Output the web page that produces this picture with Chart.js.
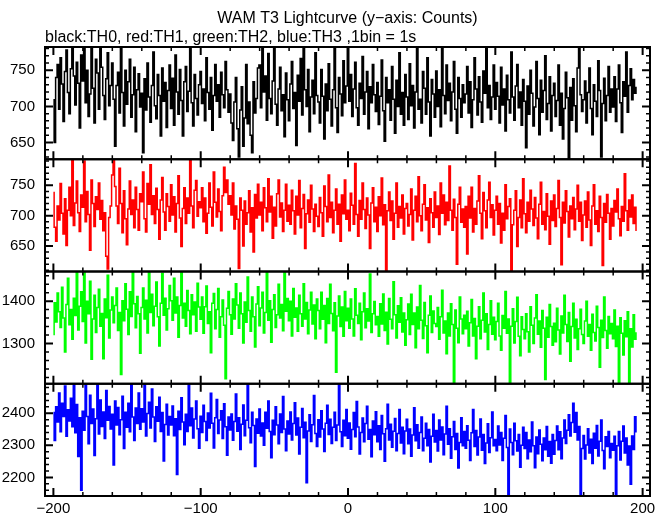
<!DOCTYPE html>
<html>
<head>
<meta charset="utf-8">
<script src="https://cdn.jsdelivr.net/npm/chart.js@4.4.0/dist/chart.umd.min.js"></script>
<style>
  html, body { margin: 0; padding: 0; background: #fff; }
  #wrap { width: 669px; height: 515px; }
</style>
</head>
<body>
<div id="wrap"><canvas id="lc" width="669" height="515"></canvas></div>
<script>
// time of first bin (s); 1 bin = 1 s
const tStart = -200;

// TH0 counts (black), one row = 20 s
const th0 = [
  709, 650, 740, 758, 696, 767, 731, 679, 748, 778, 719, 690, 752, 790, 742, 702, 761, 732, 670, 771,
  735, 796, 705, 750, 686, 717, 783, 725, 677, 765, 746, 696, 802, 754, 715, 682, 738, 774, 701, 729,
  760, 710, 645, 729, 747, 691, 789, 719, 673, 750, 703, 734, 765, 685, 716, 754, 665, 723, 745, 699,
  718, 636, 738, 695, 760, 713, 678, 729, 775, 701, 683, 744, 715, 659, 753, 707, 733, 671, 722, 757,
  697, 739, 674, 771, 720, 689, 751, 708, 659, 734, 755, 693, 721, 780, 705, 673, 744, 711, 688, 730,
  748, 704, 724, 680, 767, 719, 696, 740, 667, 715, 758, 707, 730, 685, 747, 716, 698, 762, 723, 692,
  717, 677, 653, 706, 740, 669, 630, 695, 727, 645, 684, 758, 676, 706, 660, 636, 734, 691, 711, 753,
  757, 698, 798, 720, 742, 681, 773, 711, 690, 735, 788, 703, 674, 724, 754, 694, 716, 658, 746, 709,
  680, 731, 762, 697, 719, 646, 743, 707, 766, 688, 807, 723, 700, 751, 665, 713, 736, 690, 774, 715,
  706, 677, 751, 714, 655, 731, 694, 759, 710, 673, 723, 783, 698, 664, 740, 717, 687, 763, 705, 728,
  805, 707, 744, 686, 724, 761, 698, 674, 732, 711, 769, 689, 720, 748, 669, 727, 705, 758, 716, 693,
  733, 675, 714, 764, 694, 652, 740, 705, 723, 681, 755, 710, 663, 736, 700, 774, 689, 719, 674, 744,
  713, 682, 759, 701, 729, 670, 720, 781, 696, 710, 677, 748, 725, 689, 767, 706, 659, 737, 717, 685,
  749, 700, 723, 672, 786, 715, 690, 757, 708, 732, 680, 720, 762, 696, 663, 740, 711, 685, 730, 705,
  717, 755, 691, 734, 671, 709, 767, 724, 688, 741, 706, 678, 749, 718, 792, 698, 729, 682, 713, 757,
  696, 733, 714, 677, 754, 702, 724, 666, 743, 709, 691, 775, 713, 681, 728, 758, 698, 720, 674, 737,
  707, 643, 728, 689, 750, 718, 673, 699, 762, 711, 661, 736, 692, 722, 770, 682, 704, 741, 666, 715,
  732, 686, 708, 757, 674, 718, 655, 697, 747, 712, 622, 726, 681, 738, 701, 665, 753, 792, 716, 693,
  709, 735, 677, 719, 753, 697, 661, 730, 707, 686, 763, 722, 630, 704, 739, 680, 715, 755, 692, 724,
  699, 741, 679, 724, 757, 705, 664, 734, 714, 775, 692, 729, 752, 709, 737, 718, 726
];

// TH1 counts (red)
const th1 = [
  738, 681, 658, 716, 693, 753, 704, 670, 728, 651, 709, 747, 700, 798, 684, 721, 757, 705, 674, 734,
  714, 790, 690, 740, 702, 643, 759, 720, 682, 731, 710, 754, 694, 725, 675, 705, 633, 612, 697, 716,
  767, 817, 748, 716, 687, 778, 720, 672, 741, 695, 652, 711, 757, 702, 726, 680, 747, 710, 676, 736,
  723, 772, 695, 673, 753, 719, 784, 702, 733, 687, 745, 710, 661, 726, 763, 706, 676, 736, 715, 691,
  751, 701, 731, 673, 720, 766, 696, 649, 712, 746, 687, 729, 704, 792, 716, 680, 742, 758, 699, 723,
  713, 746, 690, 729, 671, 704, 754, 714, 683, 772, 722, 698, 744, 707, 675, 733, 780, 738, 759, 719,
  733, 701, 754, 678, 716, 694, 613, 729, 709, 650, 724, 686, 705, 741, 673, 713, 640, 735, 696, 752,
  701, 722, 675, 746, 713, 690, 761, 706, 732, 663, 714, 683, 736, 759, 698, 721, 674, 709, 752, 691,
  717, 686, 742, 708, 670, 732, 701, 758, 680, 712, 735, 646, 703, 726, 689, 750, 711, 674, 719, 699,
  682, 730, 705, 666, 749, 715, 690, 767, 697, 722, 672, 709, 744, 686, 719, 658, 734, 703, 759, 694,
  709, 675, 737, 717, 686, 786, 702, 666, 725, 694, 754, 710, 679, 729, 701, 646, 721, 746, 690, 714,
  674, 731, 700, 762, 685, 718, 608, 708, 739, 692, 724, 661, 704, 754, 681, 715, 696, 734, 670, 712,
  720, 683, 702, 744, 660, 709, 732, 690, 764, 700, 675, 719, 751, 693, 713, 656, 728, 705, 681, 739,
  697, 716, 669, 754, 704, 734, 685, 722, 692, 782, 709, 676, 727, 697, 620, 719, 747, 689, 711, 681,
  715, 637, 732, 696, 747, 673, 712, 686, 724, 766, 704, 662, 738, 708, 680, 726, 755, 697, 718, 668,
  709, 732, 686, 720, 655, 704, 676, 751, 695, 715, 728, 590, 685, 709, 741, 649, 697, 726, 680, 761,
  703, 672, 722, 691, 742, 711, 684, 730, 696, 662, 719, 755, 686, 707, 677, 736, 699, 653, 724, 692,
  734, 682, 712, 758, 697, 619, 722, 688, 741, 707, 665, 716, 695, 730, 677, 711, 750, 691, 722, 659,
  701, 724, 681, 739, 693, 651, 716, 751, 686, 708, 674, 732, 697, 618, 720, 689, 735, 704, 661, 712,
  683, 725, 706, 744, 695, 667, 715, 691, 769, 708, 676, 726, 698, 734, 687, 714, 676
];

// TH2 counts (green)
const th2 = [
  1321, 1396, 1351, 1419, 1375, 1338, 1433, 1360, 1280, 1392, 1454, 1344, 1380, 1310, 1407, 1366, 1468, 1332, 1388, 1422,
  1352, 1492, 1301, 1400, 1370, 1447, 1263, 1358, 1414, 1326, 1385, 1428, 1341, 1371, 1264, 1405, 1361, 1461, 1313, 1379,
  1410, 1349, 1390, 1431, 1331, 1373, 1227, 1401, 1354, 1441, 1381, 1321, 1422, 1364, 1475, 1394, 1337, 1411, 1370, 1277,
  1385, 1431, 1358, 1402, 1325, 1496, 1373, 1416, 1342, 1388, 1445, 1363, 1294, 1395, 1466, 1367, 1407, 1332, 1382, 1437,
  1401, 1355, 1454, 1372, 1410, 1315, 1390, 1481, 1360, 1395, 1341, 1425, 1378, 1323, 1415, 1368, 1398, 1329, 1442, 1386,
  1357, 1410, 1324, 1387, 1436, 1347, 1375, 1278, 1395, 1418, 1335, 1380, 1430, 1315, 1363, 1403, 1343, 1217, 1383, 1423,
  1368, 1322, 1405, 1358, 1441, 1391, 1336, 1419, 1370, 1301, 1398, 1350, 1457, 1378, 1329, 1410, 1363, 1292, 1393, 1434,
  1342, 1384, 1421, 1325, 1373, 1476, 1355, 1401, 1303, 1380, 1415, 1338, 1368, 1440, 1360, 1392, 1330, 1484, 1376, 1406,
  1354, 1400, 1318, 1430, 1362, 1384, 1329, 1414, 1370, 1341, 1441, 1358, 1397, 1323, 1379, 1421, 1346, 1391, 1311, 1405,
  1378, 1335, 1421, 1357, 1390, 1302, 1406, 1347, 1440, 1371, 1330, 1396, 1232, 1365, 1412, 1340, 1386, 1317, 1423, 1354,
  1383, 1336, 1405, 1358, 1318, 1429, 1367, 1347, 1395, 1309, 1375, 1419, 1337, 1382, 1353, 1464, 1326, 1370, 1399, 1344,
  1364, 1317, 1394, 1346, 1417, 1331, 1374, 1299, 1406, 1357, 1335, 1446, 1368, 1313, 1389, 1350, 1408, 1327, 1372, 1296,
  1356, 1393, 1321, 1416, 1345, 1372, 1290, 1386, 1335, 1437, 1355, 1312, 1397, 1342, 1278, 1367, 1412, 1326, 1377, 1347,
  1340, 1385, 1310, 1363, 1426, 1325, 1353, 1276, 1372, 1318, 1394, 1345, 1201, 1379, 1336, 1302, 1410, 1358, 1323, 1367,
  1335, 1376, 1294, 1349, 1404, 1318, 1359, 1264, 1341, 1387, 1311, 1355, 1419, 1327, 1370, 1286, 1345, 1401, 1322, 1362,
  1309, 1352, 1395, 1318, 1284, 1366, 1336, 1423, 1324, 1358, 1190, 1341, 1382, 1301, 1352, 1409, 1317, 1271, 1363, 1333,
  1311, 1370, 1328, 1280, 1387, 1343, 1300, 1360, 1415, 1322, 1353, 1291, 1378, 1336, 1215, 1362, 1315, 1392, 1340, 1296,
  1348, 1304, 1383, 1332, 1275, 1365, 1325, 1414, 1345, 1305, 1373, 1258, 1340, 1395, 1313, 1357, 1286, 1335, 1381, 1321,
  1300, 1353, 1400, 1317, 1345, 1284, 1369, 1326, 1306, 1388, 1338, 1244, 1355, 1314, 1410, 1331, 1289, 1364, 1323, 1347,
  1311, 1379, 1293, 1341, 1202, 1361, 1324, 1273, 1354, 1316, 1375, 1197, 1335, 1292, 1368, 1310, 1325
];

// TH3 counts (blue)
const th3 = [
  2402, 2315, 2420, 2373, 2463, 2342, 2431, 2390, 2485, 2328, 2411, 2376, 2447, 2358, 2520, 2339, 2427, 2265, 2386, 2160,
  2406, 2347, 2491, 2390, 2305, 2456, 2368, 2413, 2268, 2383, 2514, 2335, 2441, 2359, 2404, 2321, 2471, 2378, 2421, 2351,
  2397, 2239, 2438, 2363, 2418, 2333, 2380, 2453, 2290, 2403, 2356, 2431, 2342, 2503, 2388, 2315, 2416, 2368, 2463, 2350,
  2414, 2373, 2522, 2329, 2399, 2434, 2354, 2476, 2388, 2312, 2420, 2375, 2450, 2343, 2402, 2251, 2365, 2428, 2332, 2390,
  2363, 2423, 2330, 2383, 2209, 2406, 2349, 2448, 2373, 2302, 2397, 2343, 2496, 2361, 2416, 2323, 2382, 2438, 2352, 2291,
  2391, 2340, 2425, 2374, 2315, 2401, 2354, 2462, 2369, 2292, 2386, 2443, 2337, 2379, 2408, 2321, 2430, 2358, 2269, 2388,
  2348, 2398, 2316, 2374, 2460, 2344, 2386, 2287, 2366, 2426, 2330, 2378, 2522, 2355, 2308, 2403, 2362, 2234, 2382, 2338,
  2413, 2329, 2370, 2300, 2403, 2353, 2438, 2343, 2261, 2378, 2333, 2420, 2363, 2305, 2398, 2340, 2452, 2351, 2283, 2376,
  2335, 2404, 2317, 2368, 2433, 2332, 2385, 2273, 2356, 2415, 2324, 2372, 2183, 2345, 2395, 2312, 2364, 2455, 2337, 2296,
  2380, 2326, 2408, 2351, 2281, 2369, 2425, 2334, 2381, 2306, 2356, 2403, 2315, 2363, 2527, 2342, 2296, 2378, 2330, 2412,
  2322, 2370, 2288, 2349, 2402, 2327, 2437, 2357, 2273, 2340, 2385, 2311, 2368, 2422, 2319, 2349, 2264, 2376, 2333, 2405,
  2311, 2361, 2287, 2393, 2336, 2250, 2352, 2428, 2317, 2366, 2294, 2344, 2384, 2283, 2337, 2412, 2307, 2356, 2274, 2345,
  2381, 2305, 2351, 2266, 2332, 2417, 2314, 2364, 2291, 2340, 2388, 2283, 2322, 2369, 2299, 2349, 2248, 2328, 2397, 2310,
  2346, 2282, 2379, 2317, 2357, 2271, 2335, 2422, 2303, 2352, 2260, 2327, 2374, 2287, 2337, 2229, 2309, 2386, 2299, 2343,
  2291, 2361, 2316, 2253, 2339, 2412, 2296, 2346, 2270, 2326, 2382, 2285, 2334, 2243, 2307, 2367, 2278, 2324, 2404, 2299,
  2318, 2283, 2360, 2301, 2340, 2253, 2322, 2393, 2293, 2120, 2351, 2309, 2271, 2369, 2314, 2282, 2334, 2232, 2300, 2356,
  2290, 2340, 2258, 2317, 2280, 2373, 2299, 2230, 2326, 2274, 2348, 2303, 2252, 2323, 2286, 2359, 2266, 2312, 2244, 2334,
  2272, 2315, 2360, 2286, 2342, 2258, 2323, 2379, 2306, 2347, 2395, 2329, 2371, 2431, 2341, 2402, 2317, 2359, 2146, 2290,
  2331, 2257, 2301, 2352, 2276, 2319, 2243, 2338, 2291, 2362, 2267, 2313, 2379, 2284, 2227, 2327, 2296, 2343, 2261, 2306,
  2285, 2328, 2112, 2299, 2343, 2254, 2313, 2360, 2276, 2323, 2239, 2298, 2179, 2329, 2287, 2389, 2342
];

const xTicks = [-200, -100, 0, 100, 200];
const y0Ticks = [650, 700, 750];
const y1Ticks = [650, 700, 750];
const y2Ticks = [1300, 1400];
const y3Ticks = [2200, 2300, 2400];

// one panel per energy band, top to bottom
const panels = [
  { id: 'y0', data: th0, color: '#000000', min: 627, max: 782, ticks: y0Ticks, minor: 10 },
  { id: 'y1', data: th1, color: '#ff0000', min: 608, max: 793, ticks: y1Ticks, minor: 10 },
  { id: 'y2', data: th2, color: '#00ff00', min: 1205, max: 1470, ticks: y2Ticks, minor: 20 },
  { id: 'y3', data: th3, color: '#0000ff', min: 2142, max: 2492, ticks: y3Ticks, minor: 20 },
];

const FONT = 'Liberation Sans, Arial, Helvetica, sans-serif';
const minus = (v) => String(v).replace('-', '\u2212');

const scales = {
  x: {
    type: 'linear',
    position: 'bottom',
    min: -205.7,
    max: 205,
    grid: { display: false, drawTicks: false },
    border: { display: false },
    ticks: { color: '#000', font: { family: FONT, size: 15 }, padding: 4, callback: minus },
    afterBuildTicks: (s) => { s.ticks = xTicks.map((v) => ({ value: v })); },
    afterFit: (s) => { s.height = 19; },
  },
};
panels.forEach((p, i) => {
  scales[p.id] = {
    type: 'linear',
    position: 'left',
    stack: 'lc',
    stackWeight: 1,
    weight: panels.length - i,
    min: p.min,
    max: p.max,
    grid: { display: false, drawTicks: false },
    border: { display: false },
    ticks: { color: '#000', font: { family: FONT, size: 15 }, padding: 10, callback: (v) => String(v) },
    afterBuildTicks: (s) => { s.ticks = p.ticks.map((v) => ({ value: v })); },
    afterFit: (s) => { s.width = 45; },
  };
});

// clip each curve to its own panel, then draw frames and inward ticks
const panelPlugin = {
  id: 'panels',
  beforeDatasetDraw(chart, args) {
    const s = chart.scales[chart.data.datasets[args.index].yAxisID];
    const a = chart.chartArea;
    const ctx = chart.ctx;
    ctx.save();
    ctx.beginPath();
    ctx.rect(a.left, s.top, a.right - a.left, s.bottom - s.top);
    ctx.clip();
  },
  afterDatasetDraw(chart) {
    chart.ctx.restore();
  },
  afterDraw(chart) {
    const ctx = chart.ctx;
    const a = chart.chartArea;
    const xs = chart.scales.x;
    ctx.save();
    ctx.strokeStyle = '#000';
    panels.forEach((p) => {
      const s = chart.scales[p.id];
      // y ticks, left and right
      const first = Math.ceil(p.min / p.minor) * p.minor;
      for (let v = first; v <= p.max; v += p.minor) {
        const y = s.getPixelForValue(v);
        const major = p.ticks.includes(v);
        const len = major ? 8 : 4;
        ctx.lineWidth = major ? 2 : 1.5;
        ctx.beginPath();
        ctx.moveTo(a.left, y); ctx.lineTo(a.left + len, y);
        ctx.moveTo(a.right, y); ctx.lineTo(a.right - len, y);
        ctx.stroke();
      }
      // x ticks, top and bottom of each panel
      for (let v = -200; v <= 200; v += 20) {
        const x = xs.getPixelForValue(v);
        const major = v % 100 === 0;
        const len = major ? 8 : 4;
        ctx.lineWidth = major ? 2 : 1.5;
        ctx.beginPath();
        ctx.moveTo(x, s.top); ctx.lineTo(x, s.top + len);
        ctx.moveTo(x, s.bottom); ctx.lineTo(x, s.bottom - len);
        ctx.stroke();
      }
      ctx.lineWidth = 2;
      ctx.strokeRect(a.left, s.top, a.right - a.left, s.bottom - s.top);
    });
    ctx.restore();
  },
};

new Chart(document.getElementById('lc'), {
  type: 'line',
  data: {
    datasets: panels.map((p) => ({
      data: p.data.map((v, i) => ({ x: tStart + i, y: v })),
      yAxisID: p.id,
      borderColor: p.color,
      borderWidth: 1.5,
      borderJoinStyle: 'miter',
      borderCapStyle: 'butt',
      pointRadius: 0,
      stepped: 'middle',
      fill: false,
    })),
  },
  options: {
    responsive: false,
    animation: false,
    devicePixelRatio: 1,
    layout: { padding: { left: 0, right: 19, top: 0, bottom: 0 } },
    plugins: {
      legend: { display: false },
      tooltip: { enabled: false },
      title: {
        display: true,
        text: 'WAM T3 Lightcurve (y\u2212axis: Counts)',
        fullSize: false,
        color: '#000',
        font: { family: FONT, size: 16, weight: 'normal', lineHeight: 1 },
        padding: { top: 11, bottom: 0 },
      },
      subtitle: {
        display: true,
        text: 'black:TH0, red:TH1, green:TH2, blue:TH3 ,1bin = 1s',
        align: 'start',
        fullSize: false,
        color: '#000',
        font: { family: FONT, size: 16, weight: 'normal', lineHeight: 1 },
        padding: { top: 3, bottom: 1 },
      },
    },
    scales: scales,
  },
  plugins: [panelPlugin],
});
</script>
</body>
</html>
